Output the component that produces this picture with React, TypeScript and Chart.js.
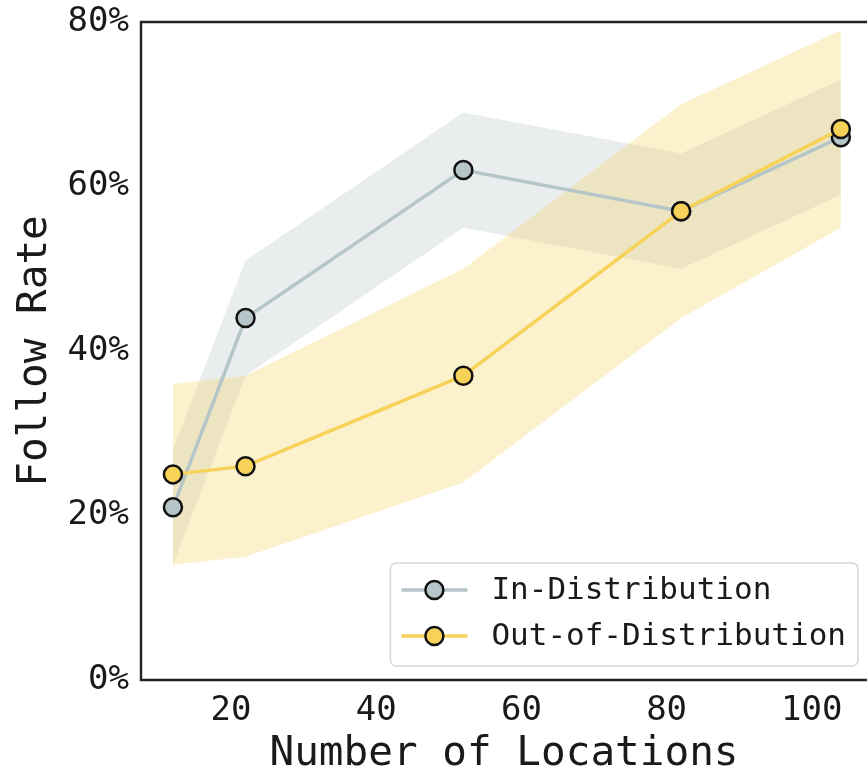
import React, { useEffect, useRef } from "react";
import { Chart, registerables } from "chart.js";

Chart.register(...registerables);

const locations = [12, 22, 52, 82, 104];
const idMean = [21, 44, 62, 57, 66];
const idLower = [14, 37, 55, 50, 59];
const idUpper = [28, 51, 69, 64, 73];
const oodMean = [25, 26, 37, 57, 67];
const oodLower = [14, 15, 24, 44, 55];
const oodUpper = [36, 37, 50, 70, 79];
const xTicks = [20, 40, 60, 80, 100];
const yTicks = [0, 20, 40, 60, 80];
const seriesNames = ["In-Distribution", "Out-of-Distribution"];
const xTitle = "Number of Locations";
const yTitle = "Follow Rate";

const FONT = '"DejaVu Sans Mono", "Liberation Mono", monospace';
const ID_COLOR = "#b6c5c7";
const OOD_COLOR = "#f6d258";
const ID_BAND = "rgba(182,197,199,0.3)";
const OOD_BAND = "rgba(246,210,88,0.3)";
const TEXT = "#1a1a1a";

const pts = (ys: number[]) => locations.map((x, i) => ({ x, y: ys[i] }));

const framePlugin = {
  id: "frame",
  afterDatasetsDraw(chart: any) {
    const { ctx, chartArea } = chart;
    const { left, top, right, bottom } = chartArea;
    ctx.save();
    ctx.strokeStyle = "#222";
    ctx.lineWidth = 2.4;
    ctx.beginPath();
    ctx.moveTo(right + 5, top);
    ctx.lineTo(left, top);
    ctx.lineTo(left, bottom);
    ctx.lineTo(right + 5, bottom);
    ctx.stroke();
    ctx.restore();
  },
};

const legendPlugin = {
  id: "customLegend",
  afterDraw(chart: any) {
    const { ctx, chartArea } = chart;
    const size = 31;
    ctx.save();
    ctx.font = `${size}px ${FONT}`;
    const tw = Math.max(...seriesNames.map((n) => ctx.measureText(n).width));
    const padL = 11, handle = 66, gap = 24, padR = 12;
    const w = padL + handle + gap + tw + padR;
    const h = 103;
    const x = chartArea.right - 9 - w;
    const y = chartArea.bottom - 14 - h;
    ctx.beginPath();
    ctx.roundRect(x, y, w, h, 6);
    ctx.fillStyle = "rgba(255,255,255,0.8)";
    ctx.fill();
    ctx.strokeStyle = "#d6d6d6";
    ctx.lineWidth = 1.5;
    ctx.stroke();
    const colors = [ID_COLOR, OOD_COLOR];
    seriesNames.forEach((name, i) => {
      const cy = y + 27 + i * 46;
      ctx.strokeStyle = colors[i];
      ctx.lineWidth = 3.5;
      ctx.beginPath();
      ctx.moveTo(x + padL, cy);
      ctx.lineTo(x + padL + handle, cy);
      ctx.stroke();
      ctx.beginPath();
      ctx.arc(x + padL + handle / 2, cy, 9, 0, Math.PI * 2);
      ctx.fillStyle = colors[i];
      ctx.fill();
      ctx.strokeStyle = "#111";
      ctx.lineWidth = 2.5;
      ctx.stroke();
      ctx.fillStyle = TEXT;
      ctx.textAlign = "left";
      ctx.textBaseline = "middle";
      ctx.fillText(name, x + padL + handle + gap, cy + 1);
    });
    ctx.restore();
  },
};

export default function App() {
  const ref = useRef<HTMLCanvasElement | null>(null);
  useEffect(() => {
    if (!ref.current) return;
    const lineDs = (label: string, ys: number[], color: string, order: number) => ({
      label,
      data: pts(ys),
      borderColor: color,
      backgroundColor: color,
      borderWidth: 3.5,
      pointRadius: 9,
      pointBorderWidth: 2.5,
      pointBorderColor: "#111",
      pointBackgroundColor: color,
      fill: false,
      clip: false,
      order,
    });
    const bandDs = (label: string, ys: number[], fill: any, color: string, order: number) => ({
      label,
      data: pts(ys),
      borderWidth: 0,
      borderColor: "rgba(0,0,0,0)",
      pointRadius: 0,
      backgroundColor: color,
      fill,
      order,
    });
    const chart = new Chart(ref.current, {
      type: "line",
      data: {
        datasets: [
          lineDs(seriesNames[1], oodMean, OOD_COLOR, 0),
          lineDs(seriesNames[0], idMean, ID_COLOR, 1),
          bandDs("ood-upper", oodUpper, "+1", OOD_BAND, 2),
          bandDs("ood-lower", oodLower, false, OOD_BAND, 3),
          bandDs("id-upper", idUpper, "+1", ID_BAND, 4),
          bandDs("id-lower", idLower, false, ID_BAND, 5),
        ] as any,
      },
      options: {
        animation: false,
        responsive: false,
        layout: { autoPadding: false, padding: { top: 22, left: 0, right: 0, bottom: 0 } },
        plugins: {
          legend: { display: false },
          tooltip: { enabled: false },
        },
        scales: {
          x: {
            type: "linear",
            min: 7.6,
            max: 107.6,
            grid: { display: false, drawTicks: false },
            border: { display: false },
            afterBuildTicks: (scale: any) => {
              scale.ticks = xTicks.map((v) => ({ value: v }));
            },
            afterFit: (scale: any) => {
              scale.height = 93;
              scale.paddingLeft = 0;
              scale.paddingRight = 0;
            },
            ticks: {
              padding: 11,
              color: TEXT,
              font: { family: FONT, size: 34 },
              maxRotation: 0,
              autoSkip: false,
            },
            title: {
              display: true,
              text: xTitle,
              color: TEXT,
              font: { family: FONT, size: 41, lineHeight: 1 },
              padding: { top: 0, bottom: -2 },
            },
          },
          y: {
            type: "linear",
            min: 0,
            max: 80,
            grid: { display: false, drawTicks: false },
            border: { display: false },
            afterBuildTicks: (scale: any) => {
              scale.ticks = yTicks.map((v) => ({ value: v }));
            },
            afterFit: (scale: any) => {
              scale.width = 141;
              scale.paddingTop = 0;
              scale.paddingBottom = 0;
            },
            ticks: {
              padding: 12,
              color: TEXT,
              font: { family: FONT, size: 34 },
              callback: (v: any) => `${v}%`,
            },
            title: {
              display: true,
              text: yTitle,
              color: TEXT,
              font: { family: FONT, size: 41, lineHeight: 1 },
              padding: { top: 15, bottom: 0 },
            },
          },
        },
      },
      plugins: [framePlugin, legendPlugin],
    });
    return () => chart.destroy();
  }, []);
  return (
    <div style={{ position: "fixed", left: 0, top: 0, width: 867, height: 773, background: "#fff" }}>
      <canvas ref={ref} width={867} height={773} style={{ display: "block" }} />
    </div>
  );
}
